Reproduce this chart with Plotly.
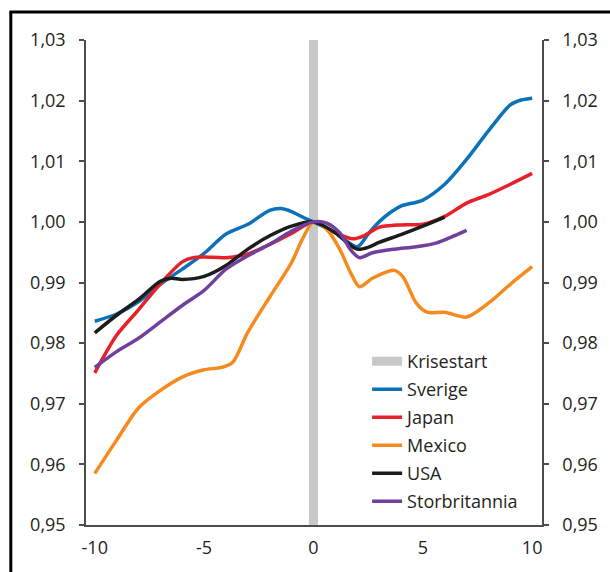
import plotly.graph_objects as go

# Index, crisis start = 1.00 ; years relative to crisis start
crisis_x = 0
crisis_y = [0.95, 1.03]

sverige_x = [-10, -9, -8, -7, -6, -5, -4, -3, -2, -1.5, -1, -0.5, 0, 1, 2, 2.5, 3, 3.5, 4, 5, 6, 7, 8, 9, 9.5, 10]
sverige_y = [0.9836, 0.9848, 0.9868, 0.9897, 0.9922, 0.9948, 0.9980, 0.9996, 1.0019, 1.0022, 1.0017, 1.0008, 1.0000,
             0.9982, 0.9959, 0.9980, 1.0000, 1.0015, 1.0026, 1.0036, 1.0062, 1.0103, 1.0150, 1.0193, 1.0201, 1.0204]

japan_x = [-10, -9, -8, -7, -6, -5.5, -5, -4, -3, -2, -1, 0, 1, 1.8, 2.3, 3, 4, 5, 6, 7, 8, 9, 10]
japan_y = [0.9751, 0.9813, 0.9855, 0.9898, 0.9934, 0.9941, 0.9942, 0.9941, 0.9947, 0.9963, 0.9981, 1.0000,
           0.9982, 0.9972, 0.9977, 0.9991, 0.9995, 0.9996, 1.0009, 1.0031, 1.0045, 1.0062, 1.0080]

mexico_x = [-10, -9, -8, -7, -6, -5, -4.2, -3.7, -3, -2, -1, -0.5, 0, 0.6, 1.2, 1.7, 2.1, 2.7, 3.7, 4.1, 4.7, 5.2,
            6, 7, 8, 9, 10]
mexico_y = [0.9585, 0.9640, 0.9693, 0.9722, 0.9744, 0.9756, 0.9760, 0.9768, 0.9818, 0.9876, 0.9933, 0.9972, 1.0000,
            0.9988, 0.9955, 0.9916, 0.9893, 0.9907, 0.9920, 0.9909, 0.9866, 0.9851, 0.9851, 0.9843, 0.9866, 0.9897,
            0.9926]

usa_x = [-10, -9, -8, -7, -6.5, -6, -5, -4, -3, -2, -1, 0, 1, 1.5, 2, 2.5, 3, 4, 5, 6]
usa_y = [0.9817, 0.9846, 0.9872, 0.9902, 0.9907, 0.9905, 0.9910, 0.9928, 0.9955, 0.9977, 0.9993, 1.0000,
         0.9982, 0.9967, 0.9955, 0.9958, 0.9966, 0.9979, 0.9993, 1.0008]

uk_x = [-10, -9, -8, -7, -6, -5, -4, -3, -2, -1, 0, 0.6, 1.2, 1.7, 2.1, 2.7, 3.7, 4.7, 5.6, 6.3, 7]
uk_y = [0.9760, 0.9786, 0.9808, 0.9835, 0.9862, 0.9887, 0.9922, 0.9944, 0.9963, 0.9985, 1.0000, 0.9998, 0.9982,
        0.9954, 0.9941, 0.9949, 0.9955, 0.9959, 0.9965, 0.9975, 0.9986]

series = [
    ("Sverige", sverige_x, sverige_y, "#0B72BA"),
    ("Japan", japan_x, japan_y, "#E8202A"),
    ("Mexico", mexico_x, mexico_y, "#F68A1F"),
    ("USA", usa_x, usa_y, "#1C1C1C"),
    ("Storbritannia", uk_x, uk_y, "#6F409E"),
]

x_ticks = [-10, -5, 0, 5, 10]
x_tick_text = ["-10", "-5", "0", "5", "10"]
y_ticks = [0.95, 0.96, 0.97, 0.98, 0.99, 1.00, 1.01, 1.02, 1.03]

FONT = "Open Sans"
TXT = "#231F20"
AXIS = "#4D4D4D"

fig = go.Figure()

fig.add_trace(go.Scatter(
    x=[crisis_x, crisis_x], y=crisis_y, mode="lines", name="Krisestart",
    line=dict(color="#C8C8C9", width=9), legendgroup="k", hoverinfo="skip"))

for name, xs, ys, col in series:
    fig.add_trace(go.Scatter(
        x=xs, y=ys, mode="lines", name=name, legendgroup=name,
        line=dict(color=col, width=3.5, shape="spline", smoothing=0.8)))

# mirror axis on the right
fig.add_trace(go.Scatter(x=[None], y=[None], yaxis="y2", showlegend=False, hoverinfo="skip"))

yax = dict(range=[0.95, 1.03], tickvals=y_ticks, tickformat=".2f", showgrid=False, zeroline=False,
           showline=True, linecolor=AXIS, linewidth=1.5, ticks="outside", ticklen=5, tickcolor=AXIS,
           tickwidth=1.5, tickfont=dict(family=FONT, size=18, color=TXT), ticklabelstandoff=10)

fig.update_layout(
    width=610, height=572,
    margin=dict(l=86, r=63, t=40, b=47),
    paper_bgcolor="white", plot_bgcolor="white",
    separators=", ",
    font=dict(family=FONT, size=18, color=TXT),
    xaxis=dict(range=[-10.4, 10.45], tickvals=x_ticks, ticktext=x_tick_text, showgrid=False, zeroline=False,
               showline=True, linecolor=AXIS, linewidth=1.5, ticks="",
               tickfont=dict(family=FONT, size=18, color=TXT), ticklabelstandoff=6),
    yaxis=yax,
    yaxis2=dict(yax, overlaying="y", side="right"),
    showlegend=True,
    legend=dict(x=0.6165, y=0.375, xanchor="left", yanchor="top", bgcolor="rgba(0,0,0,0)",
                font=dict(family=FONT, size=18, color=TXT), tracegroupgap=1.6,
                traceorder="grouped"),
)

# frame around the figure
fig.add_shape(type="line", xref="paper", yref="paper", x0=-0.1649, x1=-0.1649, y0=1.0577, y1=-0.2,
              line=dict(color="black", width=3))
fig.add_shape(type="line", xref="paper", yref="paper", x0=-0.1681, x1=1.2, y0=1.0577, y1=1.0577,
              line=dict(color="black", width=3))

fig.write_html("out.html")
